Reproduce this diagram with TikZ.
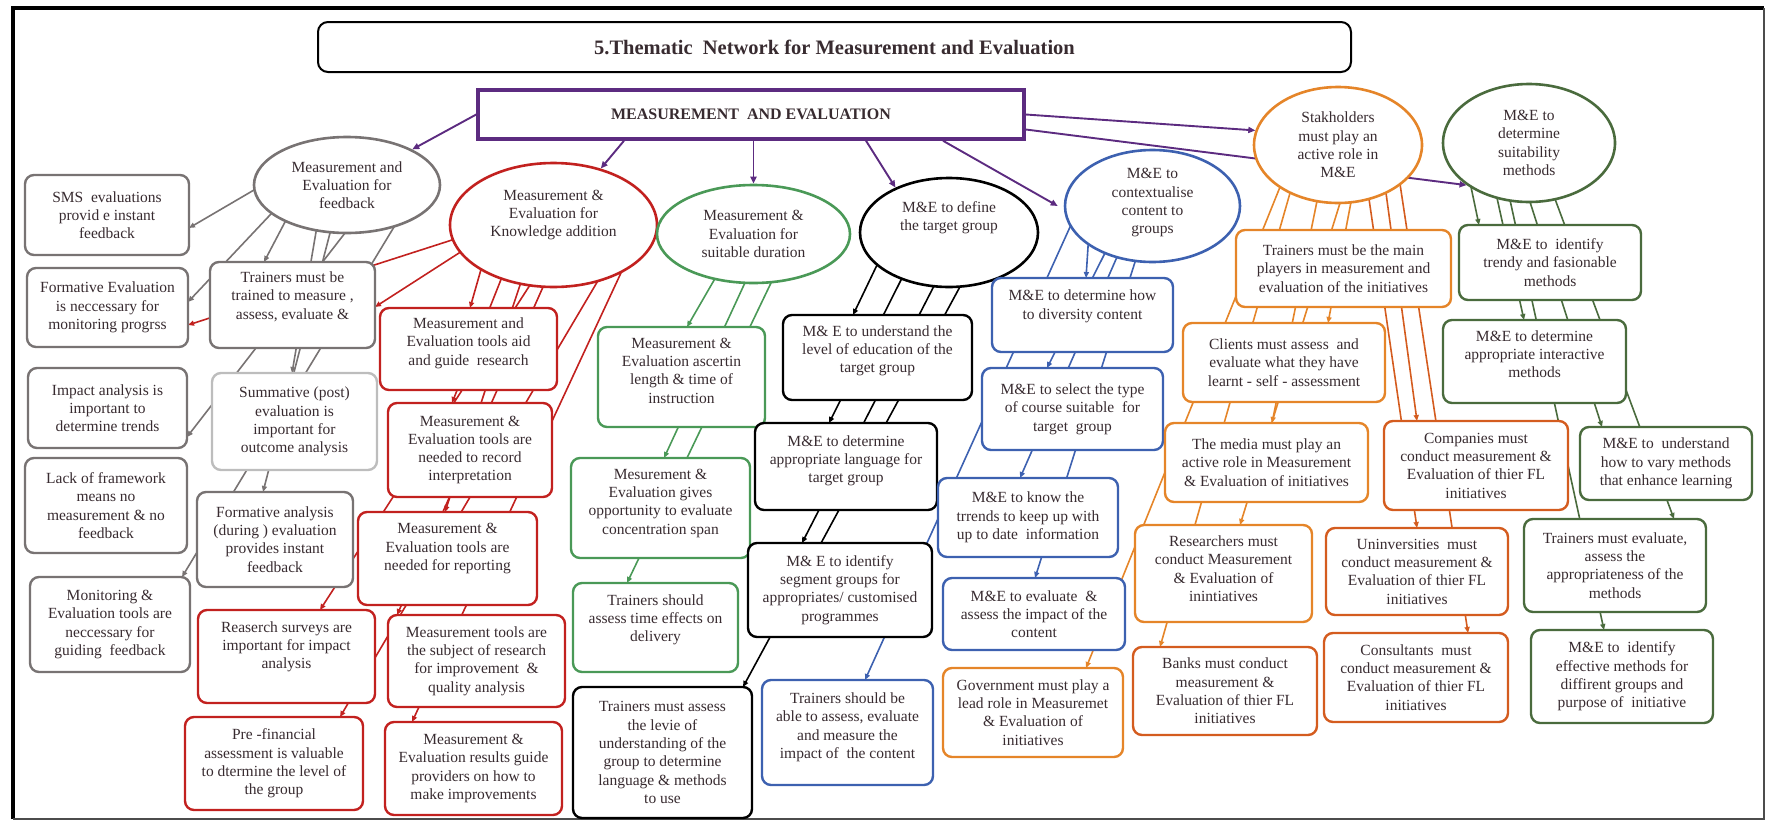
\documentclass[tikz,border=0pt]{standalone}
\usepackage{fontspec}
\setmainfont{Liberation Serif}
\usetikzlibrary{arrows.meta,shapes.geometric}
\definecolor{ink}{rgb}{0.22,0.17,0.19}
\definecolor{fbgray}{rgb}{0.47,0.45,0.45}
\definecolor{fblight}{rgb}{0.74,0.74,0.74}
\definecolor{kared}{rgb}{0.76,0.13,0.12}
\definecolor{dugreen}{rgb}{0.29,0.6,0.34}
\definecolor{tgblue}{rgb}{0.24,0.38,0.69}
\definecolor{shorange}{rgb}{0.9,0.52,0.16}
\definecolor{shdeep}{rgb}{0.83,0.36,0.12}
\definecolor{mgreen}{rgb}{0.29,0.42,0.24}
\definecolor{mepurple}{rgb}{0.36,0.17,0.5}
\pgfdeclarelayer{links}
\pgfsetlayers{links,main}
\tikzset{
  txt/.style={font=\fontsize{15.5}{18.3}\selectfont, text=ink, align=center},
  card/.style={txt, draw=#1, rectangle, rounded corners=9pt, line width=2.4pt, fill=white, inner sep=2pt},
  bub/.style={txt, draw=#1, ellipse, line width=2.6pt, fill=white, inner sep=0pt},
  wire/.style={draw=#1, line width=1.6pt, shorten <=-14pt, -{Triangle[length=6pt,width=5pt]}},
  parr/.style={draw=mepurple, line width=1.9pt, -{Triangle[length=7pt,width=6pt]}},
  lift/.style={text depth=#1},
}
% connector from a point inside one node to a point on another node
\newcommand\meLink[5]{\draw[wire=#1] ([shift={#3}]#2.center) -- ([shift={#5}]#4.center);}
\begin{document}
\begin{tikzpicture}[x=1pt,y=-1pt]
\useasboundingbox (0,0) rectangle (1771,822);
% outer frame
\draw[line width=4pt] (13,819) -- (13,8) -- (1764,8);
\draw[line width=1.6pt, black!70] (1764,8) -- (1764,819) -- (13,819);

% heading and root
\node[draw=black, line width=2pt, rounded corners=10pt, minimum width=1033pt, minimum height=50pt,
      font=\fontsize{20.5}{24}\selectfont\bfseries, text=ink] (T) at (834.5,47)
      {5.Thematic\ \ Network for Measurement and Evaluation};
\node[draw=mepurple, line width=3.5pt, fill=white, minimum width=546pt, minimum height=49pt,
      font=\fontsize{16}{19}\selectfont\bfseries, text=ink] (M) at (751,114.5)
      {MEASUREMENT\ \ AND EVALUATION};

% themes
\node[bub=fbgray, minimum width=186pt, minimum height=96pt] (E1) at (347,185) {Measurement and\\Evaluation for\\feedback};
\node[bub=kared, minimum width=207pt, minimum height=124pt, lift=23pt] (E2) at (553.5,225) {Measurement \&\\Evaluation for\\Knowledge addition};
\node[bub=dugreen, minimum width=193pt, minimum height=98pt] (E3) at (753.5,234) {Measurement \&\\Evaluation for\\suitable duration};
\node[bub=black, minimum width=178pt, minimum height=109pt, lift=33pt] (E4) at (949,232.5) {M\&E to define\\the target group};
\node[bub=tgblue, minimum width=175pt, minimum height=112pt, lift=10pt] (E5) at (1152.5,206) {M\&E to\\contextualise\\content to\\groups};
\node[bub=shorange, minimum width=168pt, minimum height=116pt] (E6) at (1338,145) {Stakholders\\must play an\\active role in\\M\&E};
\node[bub=mgreen, minimum width=172pt, minimum height=118pt] (E7) at (1529,143) {M\&E to\\determine\\suitability\\methods};

% feedback
\node[card=fbgray, minimum width=164pt, minimum height=80pt] (G1) at (107,215) {SMS\ \ evaluations\\provid e instant\\feedback};
\node[card=fbgray, minimum width=161pt, minimum height=79pt] (G2) at (107.5,307.5) {Formative Evaluation\\is neccessary for\\monitoring progrss};
\node[card=fbgray, minimum width=159pt, minimum height=80pt] (G3) at (107.5,408) {Impact analysis is\\important to\\determine trends};
\node[card=fbgray, minimum width=162pt, minimum height=95pt] (G4) at (106,505.5) {Lack of framework\\means no\\measurement \& no\\feedback};
\node[card=fbgray, minimum width=160pt, minimum height=95pt] (G5) at (110,624.5) {Monitoring \&\\Evaluation tools are\\neccessary for\\guiding\ \ feedback};
\node[card=fbgray, minimum width=165pt, minimum height=86pt, lift=19pt] (G6) at (292.5,305) {Trainers must be\\trained to measure ,\\assess, evaluate \&};
\node[card=fblight, minimum width=165pt, minimum height=97pt] (G7) at (294.5,421.5) {Summative (post)\\evaluation is\\important for\\outcome analysis};
\node[card=fbgray, minimum width=156pt, minimum height=95pt] (G8) at (275,539.5) {Formative analysis\\(during ) evaluation\\provides instant\\feedback};

% knowledge addition
\node[card=kared, minimum width=177pt, minimum height=82pt, lift=15pt] (R1) at (468.5,349) {Measurement and\\Evaluation tools aid\\and guide\ \ research};
\node[card=kared, minimum width=164pt, minimum height=94pt] (R2) at (470,450) {Measurement \&\\Evaluation tools are\\needed to record\\interpretation};
\node[card=kared, minimum width=179pt, minimum height=93pt, lift=23pt] (R3) at (447.5,558.5) {Measurement \&\\Evaluation tools are\\needed for reporting};
\node[card=kared, minimum width=177pt, minimum height=93pt, lift=23pt] (R4) at (286.5,656.5) {Reaserch surveys are\\important for impact\\analysis};
\node[card=kared, minimum width=178pt, minimum height=93pt] (R5) at (274,763.5) {Pre -financial\\assessment is valuable\\to dtermine the level of\\the group};
\node[card=kared, minimum width=177pt, minimum height=92pt] (R6) at (476.5,661) {Measurement tools are\\the subject of research\\for improvement\ \ \&\\quality analysis};
\node[card=kared, minimum width=177pt, minimum height=93pt] (R7) at (473.5,768.5) {Measurement \&\\Evaluation results guide\\providers on how to\\make improvements};

% duration
\node[card=dugreen, minimum width=167pt, minimum height=100pt, lift=13pt] (D1) at (681.5,377) {Measurement \&\\Evaluation ascertin\\length \& time of\\instruction};
\node[card=dugreen, minimum width=179pt, minimum height=100pt, lift=13pt] (D2) at (660.5,508) {Mesurement \&\\Evaluation gives\\opportunity to evaluate\\concentration span};
\node[card=dugreen, minimum width=165pt, minimum height=89pt, lift=19pt] (D3) at (655.5,627.5) {Trainers should\\assess time effects on\\delivery};

% target group
\node[card=black, minimum width=189pt, minimum height=85pt, lift=17pt] (K1) at (877.5,357.5) {M\& E to understand the\\level of education of the\\target group};
\node[card=black, minimum width=182pt, minimum height=87pt, lift=15pt] (K2) at (846,466.5) {M\&E to determine\\appropriate language for\\target group};
\node[card=black, minimum width=184pt, minimum height=94pt] (K3) at (840,590) {M\& E to identify\\segment groups for\\appropriates/ customised\\programmes};
\node[card=black, minimum width=179pt, minimum height=131pt] (K4) at (662.5,752.5) {Trainers must assess\\the levie of\\understanding of the\\group to determine\\language \& methods\\to use};

% contextualising content
\node[card=tgblue, minimum width=181pt, minimum height=74pt, lift=21pt] (B1) at (1082.5,315) {M\&E to determine how\\to diversity content};
\node[card=tgblue, minimum width=181pt, minimum height=82pt] (B2) at (1072.5,409) {M\&E to select the type\\of course suitable\ \ for\\target\ \ group};
\node[card=tgblue, minimum width=180pt, minimum height=79pt] (B3) at (1028,517.5) {M\&E to know the\\trrends to keep up with\\up to date\ \ information};
\node[card=tgblue, minimum width=182pt, minimum height=72pt] (B4) at (1034,614) {M\&E to evaluate\ \ \&\\assess the impact of the\\content};
\node[card=tgblue, minimum width=171pt, minimum height=105pt, lift=14pt] (B5) at (847.5,732.5) {Trainers should be\\able to assess, evaluate\\and measure the\\impact of\ \ the content};

% stakeholders
\node[card=shorange, minimum width=215pt, minimum height=77pt] (O1) at (1343.5,268.5) {Trainers must be the main\\players in measurement and\\evaluation of the initiatives};
\node[card=shorange, minimum width=202pt, minimum height=79pt] (O2) at (1284,362.5) {Clients must assess\ \ and\\evaluate what they have\\learnt - self - assessment};
\node[card=shorange, minimum width=203pt, minimum height=79pt] (O3) at (1266.5,462.5) {The media must play an\\active role in Measurement\\\& Evaluation of initiatives};
\node[card=shorange, minimum width=180pt, minimum height=89pt] (O4) at (1033,712.5) {Government must play a\\lead role in Measuremet\\\& Evaluation of\\initiatives};
\node[card=shorange, minimum width=177pt, minimum height=97pt, lift=10pt] (O5) at (1223.5,573.5) {Researchers must\\conduct Measurement\\\& Evaluation of\\inintiatives};
\node[card=shdeep, minimum width=184pt, minimum height=88pt] (O6) at (1225,691) {Banks must conduct\\measurement \&\\Evaluation of thier FL\\initiatives};
\node[card=shdeep, minimum width=184pt, minimum height=89pt] (O7) at (1476,465.5) {Companies must\\conduct measurement \&\\Evaluation of thier FL\\initiatives};
\node[card=shdeep, minimum width=182pt, minimum height=87pt] (O8) at (1417,571.5) {Uninversities\ \ must\\conduct measurement \&\\Evaluation of thier FL\\initiatives};
\node[card=shdeep, minimum width=184pt, minimum height=89pt] (O9) at (1416,677.5) {Consultants\ \ must\\conduct measurement \&\\Evaluation of thier FL\\initiatives};

% suitability of methods
\node[card=mgreen, minimum width=182pt, minimum height=75pt] (DG1) at (1550,262.5) {M\&E to\ \ identify\\trendy and fasionable\\methods};
\node[card=mgreen, minimum width=183pt, minimum height=83pt, lift=15pt] (DG2) at (1534.5,361.5) {M\&E to determine\\appropriate interactive\\methods};
\node[card=mgreen, minimum width=172pt, minimum height=73pt] (DG3) at (1666,463.5) {M\&E to\ \ understand\\how to vary methods\\that enhance learning};
\node[card=mgreen, minimum width=182pt, minimum height=93pt] (DG4) at (1615,565.5) {Trainers must evaluate,\\assess the\\appropriateness of the\\methods};
\node[card=mgreen, minimum width=182pt, minimum height=93pt] (DG5) at (1622,676.5) {M\&E to\ \ identify\\effective methods for\\diffirent groups and\\purpose of\ \ initiative};

\begin{pgfonlayer}{links}
% root to themes
\draw[parr] (M.west) -- (E1);
\draw[parr] ([xshift=-127pt]M.south) -- (E2);
\draw[parr] (M.south -| E3.north) -- (E3.north);
\draw[parr] ([xshift=115pt]M.south) -- (E4.140);
\draw[parr] ([xshift=192pt]M.south) -- ([xshift=-6pt]E5.west);
\draw[parr] (M.east) -- (E6.170);
\draw[parr] ([yshift=-15pt]M.east) -- (E7.214);

% feedback links
\meLink{fbgray}{E1}{(-93,5)}{G1}{(82,13)}
\meLink{fbgray}{E1}{(-77,30)}{G2}{(80.5,-5.5)}
\meLink{fbgray}{E1}{(-62,37)}{G6}{(-28.5,-43)}
\meLink{fbgray}{E1}{(-31,47)}{G7}{(-2.5,-48.5)}
\meLink{fbgray}{E1}{(-17,48)}{G8}{(-12,-47.5)}
\meLink{fbgray}{E1}{(-2,48)}{G3}{(79.5,29)}
\meLink{fbgray}{E1}{(47,42)}{G5}{(72,-47.5)}

% knowledge addition links
\meLink{kared}{E2}{(-101.5,15)}{G2}{(80.5,17.5)}
\meLink{kared}{E2}{(-94.5,28)}{G6}{(82.5,2)}
\meLink{kared}{E2}{(-73.5,48)}{R1}{(1.5,-41)}
\meLink{kared}{E2}{(-53.5,57)}{R2}{(-18,-47)}
\meLink{kared}{E2}{(-33.5,60)}{R3}{(-2.5,-46.5)}
\meLink{kared}{E2}{(-23.5,60)}{R4}{(33.5,-46.5)}
\meLink{kared}{E2}{(-10.5,62)}{R6}{(-79.5,-46)}
\meLink{kared}{E2}{(42.5,59)}{R5}{(66,-46.5)}
\meLink{kared}{E2}{(66.5,50)}{R7}{(-61.5,-46.5)}

% duration links
\meLink{dugreen}{E3}{(-40.5,48)}{D1}{(5.5,-50)}
\meLink{dugreen}{E3}{(-10.5,53)}{D2}{(3.5,-50)}
\meLink{dugreen}{E3}{(16.5,51)}{D3}{(-28.5,-44.5)}

% target group links
\meLink{black}{E4}{(-72,32.5)}{K1}{(-24.5,-42.5)}
\meLink{black}{E4}{(-47,45.5)}{K2}{(-17,-43.5)}
\meLink{black}{E4}{(-14,51.5)}{K3}{(-38,-47)}
\meLink{black}{E4}{(13,50.5)}{K4}{(80.5,-65.5)}

% content links
\meLink{tgblue}{E5}{(-64.5,41)}{B1}{(3.5,-37)}
\meLink{tgblue}{E5}{(-47.5,47)}{B2}{(-25.5,-41)}
\meLink{tgblue}{E5}{(-35.5,51)}{B3}{(-8,-39.5)}
\meLink{tgblue}{E5}{(-17.5,56)}{B4}{(1,-36)}
\meLink{tgblue}{E5}{(-82.5,21)}{B5}{(17.5,-52.5)}

% stakeholder links
\meLink{shorange}{E6}{(-58,42)}{O4}{(53,-44.5)}
\meLink{shorange}{E6}{(-48,48)}{O6}{(-65,-44)}
\meLink{shorange}{E6}{(-21,56)}{O3}{(5.5,-39.5)}
\meLink{shorange}{E6}{(2,58)}{O5}{(16.5,-48.5)}
\meLink{shorange}{E6}{(13,57)}{O2}{(44,-39.5)}
\meLink{shdeep}{E6}{(31,54)}{O8}{(0,-43.5)}
\meLink{shdeep}{E6}{(48,48)}{O7}{(-59,-44.5)}
\meLink{shdeep}{E6}{(62,39)}{O9}{(52,-44.5)}

% method links
\meLink{mgreen}{E7}{(-58,44)}{DG1}{(-71,-37.5)}
\meLink{mgreen}{E7}{(-32,55)}{DG2}{(-10.5,-41.5)}
\meLink{mgreen}{E7}{(-19,57)}{DG5}{(-18,-46.5)}
\meLink{mgreen}{E7}{(1,59)}{DG3}{(-64,-36.5)}
\meLink{mgreen}{E7}{(26,56)}{DG4}{(59,-46.5)}
\end{pgfonlayer}
\end{tikzpicture}
\end{document}
